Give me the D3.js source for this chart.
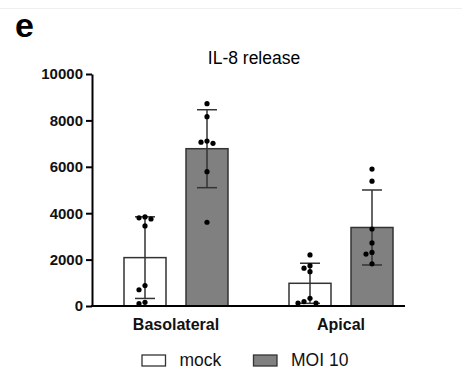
<!DOCTYPE html>
<html>
<head>
<meta charset="utf-8">
<script src="https://cdn.jsdelivr.net/npm/d3@7"></script>
<style>
  body { margin: 0; background: #fff; }
  svg { display: block; font-family: "Liberation Sans", Arial, sans-serif; }
</style>
</head>
<body>
<div id="chart"></div>
<script>
// values (pg/ml)
const categories = ["Basolateral", "Apical"];
const series = ["mock", "MOI 10"];
const basolateralMock = [3840, 3800, 3750, 3450, 880, 700, 160, 100];
const basolateralMOI = [8720, 8160, 7110, 7060, 7010, 5790, 3610];
const apicalMock = [2200, 1740, 1630, 1480, 330, 190, 130, 130];
const apicalMOI = [5900, 5380, 3320, 2720, 2310, 2240, 1820];
const yTicks = [0, 2000, 4000, 6000, 8000, 10000];
const colors = { "mock": "#ffffff", "MOI 10": "#808080" };

const groups = [
  { cat: "Basolateral", ser: "mock", vals: basolateralMock },
  { cat: "Basolateral", ser: "MOI 10", vals: basolateralMOI },
  { cat: "Apical", ser: "mock", vals: apicalMock },
  { cat: "Apical", ser: "MOI 10", vals: apicalMOI }
];
groups.forEach(g => {
  g.mean = d3.mean(g.vals);
  g.sd = d3.deviation(g.vals);
});

const width = 462, height = 378;
const svg = d3.select("#chart").append("svg")
  .attr("width", width)
  .attr("height", height);

// faint rule at top of the panel
svg.append("line")
  .attr("x1", 0).attr("x2", width)
  .attr("y1", 8.5).attr("y2", 8.5)
  .attr("stroke", "#efefef");

const axisX = 92;
const yScale = d3.scaleLinear().domain([0, 10000]).range([306, 74]);
const x0 = d3.scaleBand().domain(categories).range([93.5, 423.5]);
const x1 = d3.scaleBand().domain(series).range([-52, 52]).paddingInner(0.3226);
const cx = g => x0(g.cat) + x0.bandwidth() / 2 + x1(g.ser) + x1.bandwidth() / 2;

// panel letter + title
svg.append("text")
  .attr("x", 15).attr("y", 37)
  .attr("font-size", 34).attr("font-weight", "bold")
  .text("e");

svg.append("text")
  .attr("x", 254).attr("y", 64)
  .attr("text-anchor", "middle")
  .attr("font-size", 17.5)
  .text("IL-8 release");

// bars
svg.selectAll(".bar")
  .data(groups)
  .enter().append("rect")
  .attr("class", "bar")
  .attr("x", d => cx(d) - x1.bandwidth() / 2)
  .attr("width", x1.bandwidth())
  .attr("y", d => yScale(d.mean))
  .attr("height", d => yScale(0) - yScale(d.mean))
  .attr("fill", d => colors[d.ser])
  .attr("stroke", "#333")
  .attr("stroke-width", 1.5);

// error bars (mean +/- SD)
const capW = 10;
const err = svg.selectAll(".err")
  .data(groups)
  .enter().append("g")
  .attr("class", "err")
  .attr("stroke", "#333")
  .attr("stroke-width", 1.5);
err.append("line")
  .attr("x1", d => cx(d)).attr("x2", d => cx(d))
  .attr("y1", d => yScale(d.mean + d.sd))
  .attr("y2", d => yScale(Math.max(0, d.mean - d.sd)));
err.append("line")
  .attr("x1", d => cx(d) - capW).attr("x2", d => cx(d) + capW)
  .attr("y1", d => yScale(d.mean + d.sd)).attr("y2", d => yScale(d.mean + d.sd));
err.append("line")
  .attr("x1", d => cx(d) - capW).attr("x2", d => cx(d) + capW)
  .attr("y1", d => yScale(d.mean - d.sd)).attr("y2", d => yScale(d.mean - d.sd));

// individual points, spread sideways when they would overlap
const r = 2.6, step = 6;
const points = [];
groups.forEach(g => {
  const placed = [];
  g.vals.slice().sort((a, b) => b - a).forEach(v => {
    const py = yScale(v);
    const offsets = [0, -step, step, -2 * step, 2 * step, -3 * step, 3 * step];
    let off = 0;
    for (const o of offsets) {
      const hit = placed.some(p => Math.hypot(p.dx - o, p.y - py) < 2 * r + 0.8);
      if (!hit) { off = o; break; }
    }
    placed.push({ dx: off, y: py });
    points.push({ x: cx(g) + off, y: py });
  });
});
svg.selectAll(".pt")
  .data(points)
  .enter().append("circle")
  .attr("class", "pt")
  .attr("cx", d => d.x)
  .attr("cy", d => d.y)
  .attr("r", r)
  .attr("fill", "#000");

// y axis
const yAxis = d3.axisLeft(yScale)
  .tickValues(yTicks)
  .tickSizeInner(6)
  .tickSizeOuter(0)
  .tickPadding(3)
  .tickFormat(d3.format("d"));
const gy = svg.append("g")
  .attr("transform", `translate(${axisX},0)`)
  .call(yAxis);
gy.select(".domain").attr("stroke", "#000").attr("stroke-width", 2);
gy.selectAll(".tick line").attr("stroke", "#000").attr("stroke-width", 2);
gy.selectAll(".tick text")
  .attr("font-family", "Liberation Sans, Arial, sans-serif")
  .attr("font-size", 15)
  .attr("font-weight", "bold")
  .attr("fill", "#111");

// x baseline
svg.append("line")
  .attr("x1", axisX - 1).attr("x2", 405)
  .attr("y1", yScale(0)).attr("y2", yScale(0))
  .attr("stroke", "#000").attr("stroke-width", 2);

// category labels
svg.selectAll(".cat")
  .data(categories)
  .enter().append("text")
  .attr("class", "cat")
  .attr("x", d => x0(d) + x0.bandwidth() / 2)
  .attr("y", 330)
  .attr("text-anchor", "middle")
  .attr("font-size", 16)
  .attr("font-weight", "bold")
  .attr("fill", "#111")
  .text(d => d);

// legend
const legendX = [142, 253.5];
const leg = svg.selectAll(".leg")
  .data(series)
  .enter().append("g")
  .attr("class", "leg")
  .attr("transform", (d, i) => `translate(${legendX[i]},355)`);
leg.append("rect")
  .attr("width", 23.5).attr("height", 11)
  .attr("fill", d => colors[d])
  .attr("stroke", "#333")
  .attr("stroke-width", 1.3);
leg.append("text")
  .attr("x", 37.5).attr("y", 11)
  .attr("font-size", 17.5)
  .attr("fill", "#111")
  .text(d => d);
</script>
</body>
</html>
